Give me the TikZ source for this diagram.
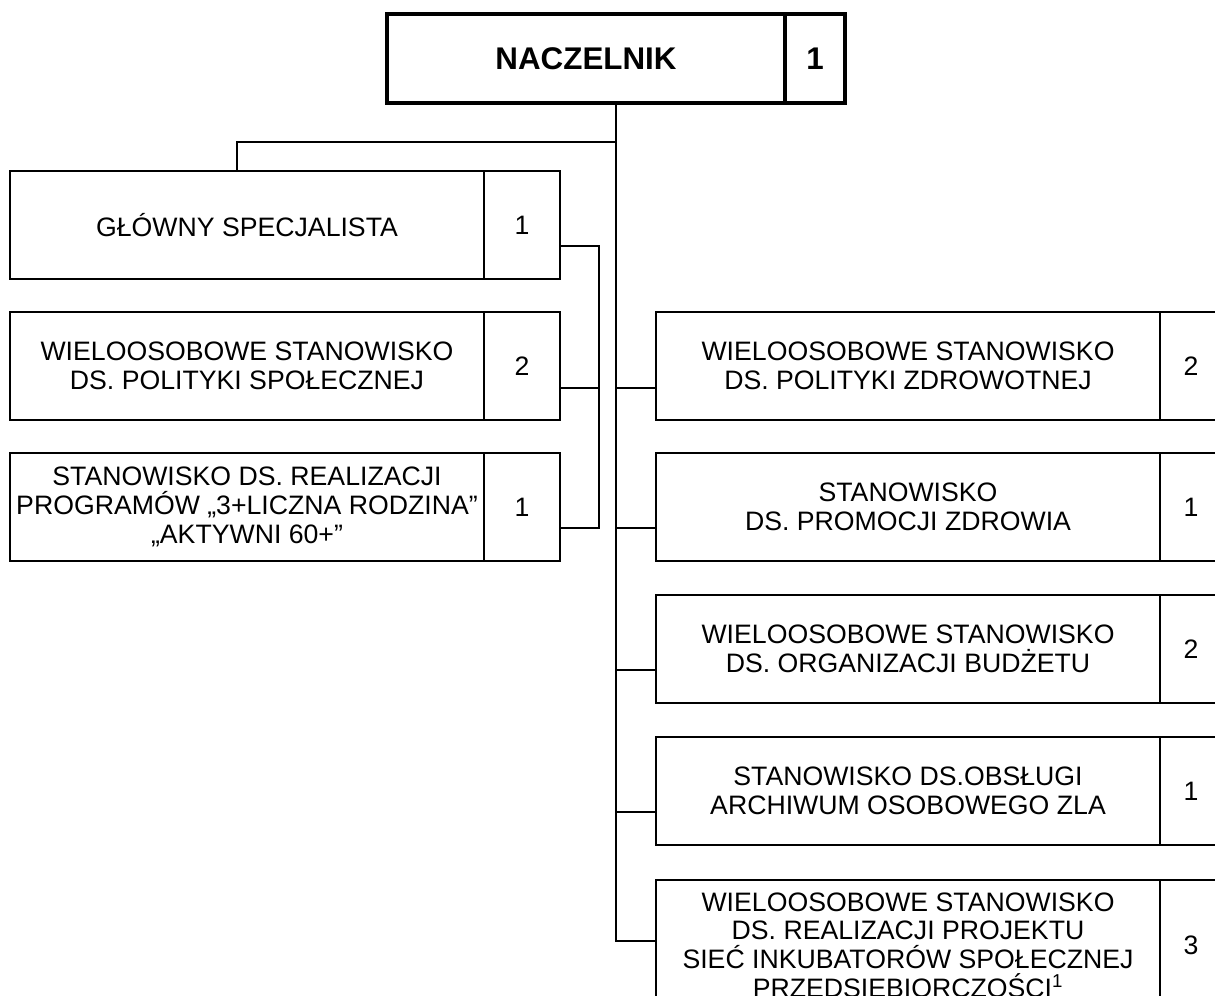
\documentclass[tikz,border=0pt]{standalone}
\usepackage{fontspec}
\setmainfont{Liberation Sans}
\usetikzlibrary{calc}
\begin{document}
\begin{tikzpicture}[x=0.75pt,y=-0.75pt,
  cell/.style={draw,line width=1.6pt,inner sep=0pt,align=center,anchor=center,font=\fontsize{20}{21.5}\selectfont},
  topcell/.style={draw,line width=3pt,inner sep=0pt,align=center,anchor=center,minimum height=66.75pt,font=\fontsize{23.5}{26}\selectfont\bfseries},
  ltext/.style={cell,minimum width=355.5pt,minimum height=81pt},
  lnum/.style={cell,minimum width=57pt,minimum height=81pt},
  rtext/.style={cell,minimum width=378pt,minimum height=81pt},
  rnum/.style={cell,minimum width=46.5pt,minimum height=81pt},
  link/.style={line width=1.3pt}]
\path[use as bounding box,clip] (0,0) rectangle (1215,996);
% top
\node[topcell,minimum width=298.5pt] (naczT) at (586,58.5) {NACZELNIK};
\node[topcell,minimum width=45pt] (naczN) at (815,58.5) {1};
% left column
\node[ltext] (gs) at (247,225) {GŁÓWNY SPECJALISTA};
\node[lnum] (gsN) at (522,225) {1};
\node[ltext] (wsp) at (247,366) {WIELOOSOBOWE STANOWISKO\\DS. POLITYKI SPOŁECZNEJ};
\node[lnum] (wspN) at (522,366) {2};
\node[ltext] (sr) at (247,507) {STANOWISKO DS. REALIZACJI\\PROGRAMÓW „3+LICZNA RODZINA”\\„AKTYWNI 60+”};
\node[lnum] (srN) at (522,507) {1};
% right column
\node[rtext] (wz) at (908,366) {WIELOOSOBOWE STANOWISKO\\DS. POLITYKI ZDROWOTNEJ};
\node[rnum] (wzN) at (1191,366) {2};
\node[rtext] (pz) at (908,507) {STANOWISKO\\DS. PROMOCJI ZDROWIA};
\node[rnum] (pzN) at (1191,507) {1};
\node[rtext] (ob) at (908,649) {WIELOOSOBOWE STANOWISKO\\DS. ORGANIZACJI BUDŻETU};
\node[rnum] (obN) at (1191,649) {2};
\node[rtext] (ar) at (908,791) {STANOWISKO DS.OBSŁUGI\\ARCHIWUM OSOBOWEGO ZLA};
\node[rnum] (arN) at (1191,791) {1};
\node[rtext,minimum height=97.5pt] (pr) at (908,945) {WIELOOSOBOWE STANOWISKO\\DS. REALIZACJI PROJEKTU\\SIEĆ INKUBATORÓW SPOŁECZNEJ\\PRZEDSIEBIORCZOŚCI\textsuperscript{1}};
\node[rnum,minimum height=97.5pt] (prN) at (1191,945) {3};
% connectors
\coordinate (trunk) at ($(naczT.south west)!0.5!(naczN.south east)$);
\coordinate (lj) at ($(trunk)+(0,37)$);
\draw[link] (trunk) |- ($(pr.north west)+(0,62)$);
\draw[link] ($(wz.north west)+(0,77)$) -- +(-38,0);
\draw[link] ($(pz.north west)+(0,76)$) -- +(-38,0);
\draw[link] ($(ob.north west)+(0,76)$) -- +(-38,0);
\draw[link] ($(ar.north west)+(0,76)$) -- +(-38,0);
\draw[link] (lj) -| ($(gs.north west)+(228,0)$);
\coordinate (lb) at ($(gsN.north east)+(38,76)$);
\draw[link] ($(gsN.north east)+(0,76)$) -- (lb) |- ($(srN.north east)+(0,76)$);
\draw[link] ($(wspN.north east)+(0,77)$) -- +(38,0);
\end{tikzpicture}
\end{document}
